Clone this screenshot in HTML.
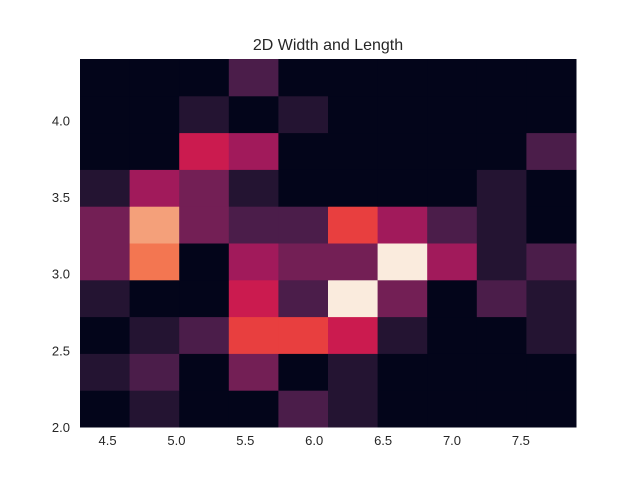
<!DOCTYPE html>
<html><head><meta charset="utf-8"><style>
body{margin:0;background:#fff;}
svg text{font-family:"Liberation Sans","DejaVu Sans",sans-serif;fill:#262626;}
</style></head><body>
<svg id="chart" width="640" height="480">
<rect width="640" height="480" fill="#fff"/>
<text x="328" y="50" font-size="16" text-anchor="middle">2D Width and Length</text>
<g id="cells"></g>
<g id="xticks"></g>
<g id="yticks"></g>
</svg>
<script>
// counts per row, bottom row (width 2.0-2.24) first; columns length 4.3..7.9
const row0 = [0,1,0,0,2,1,0,0,0,0];
const row1 = [1,2,0,3,0,1,0,0,0,0];
const row2 = [0,1,2,6,6,5,1,0,0,1];
const row3 = [1,0,0,5,2,9,3,0,2,1];
const row4 = [3,7,0,4,3,3,9,4,1,2];
const row5 = [3,8,3,2,2,6,4,2,1,0];
const row6 = [1,4,3,1,0,0,0,0,1,0];
const row7 = [0,0,5,4,0,0,0,0,0,2];
const row8 = [0,0,1,0,1,0,0,0,0,0];
const row9 = [0,0,0,2,0,0,0,0,0,0];
const xTicks = [4.5,5.0,5.5,6.0,6.5,7.0,7.5];
const yTicks = [2.0,2.5,3.0,3.5,4.0];
const xMin=4.3,xMax=7.9,yMin=2.0,yMax=4.4;
const X0=80,X1=576,Y0=427,Y1=59;
const xs=v=>X0+(v-xMin)/(xMax-xMin)*(X1-X0);
const ys=v=>Y0-(v-yMin)/(yMax-yMin)*(Y0-Y1);
const palette=["#03051a","#241432","#4b1d4a","#731f55","#a11a5b","#cb1b4f","#e83f3f","#f37651","#f4a07a","#faebdd"];
const rows=[row0,row1,row2,row3,row4,row5,row6,row7,row8,row9];
const maxC=Math.max(...rows.flat());
const color=c=>palette[Math.round(c/maxC*(palette.length-1))];
const NS="http://www.w3.org/2000/svg";
const cells=document.getElementById('cells');
const nx=row0.length, ny=rows.length;
const dx=(xMax-xMin)/nx, dy=(yMax-yMin)/ny;
rows.forEach((r,j)=>r.forEach((c,i)=>{
  const el=document.createElementNS(NS,'rect');
  const xa=xs(xMin+i*dx), xb=xs(xMin+(i+1)*dx);
  const ya=ys(yMin+(j+1)*dy), yb=ys(yMin+j*dy);
  el.setAttribute('x',xa);el.setAttribute('y',ya);
  el.setAttribute('width',xb-xa+0.5);el.setAttribute('height',yb-ya+0.5);
  el.setAttribute('fill',color(c));
  
  
  cells.appendChild(el);
}));
const xt=document.getElementById('xticks');
xTicks.forEach(v=>{
  const t=document.createElementNS(NS,'text');
  t.setAttribute('x',xs(v));t.setAttribute('y',445);
  t.setAttribute('font-size','13');t.setAttribute('text-anchor','middle');
  t.textContent=v.toFixed(1);
  
  
  xt.appendChild(t);
});
const yt=document.getElementById('yticks');
yTicks.forEach(v=>{
  const t=document.createElementNS(NS,'text');
  t.setAttribute('x',70);t.setAttribute('y',ys(v)+5);
  t.setAttribute('font-size','13');t.setAttribute('text-anchor','end');
  t.textContent=v.toFixed(1);
  
  
  yt.appendChild(t);
});
</script>
</body></html>
